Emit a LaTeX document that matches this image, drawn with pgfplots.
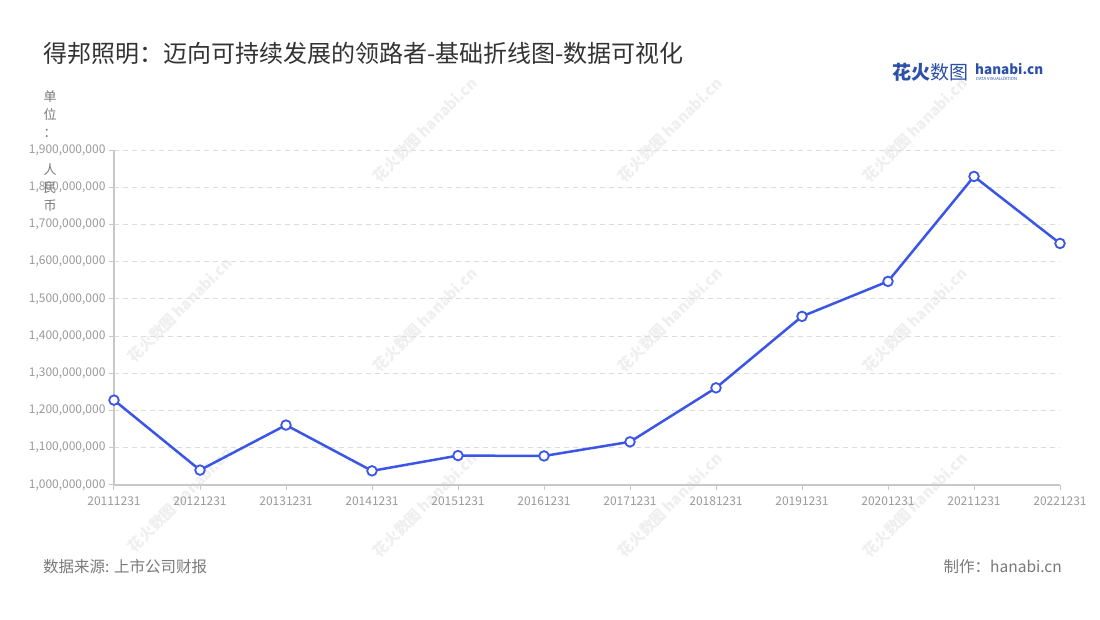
\documentclass[border=0pt]{standalone}
\usepackage{fontspec}
\setmainfont{Noto Sans CJK SC}
\usepackage{pgfplots}
\pgfplotsset{compat=1.18}
\definecolor{linec}{HTML}{3B55E6}
\definecolor{tickc}{HTML}{9A9A9A}
\definecolor{axisc}{HTML}{C8C8C8}
\definecolor{gridc}{HTML}{DDDDDD}
\definecolor{titlec}{HTML}{333333}
\definecolor{footc}{HTML}{7A7A7A}
\definecolor{wmc}{HTML}{EFEFEF}
\definecolor{logob}{HTML}{2D4FA8}
\begin{document}
\begin{tikzpicture}[x=1pt,y=1pt]
\fill[white] (0pt,0pt) rectangle (1100pt,620pt);
% watermarks
\foreach \cx/\cy in {180/310,180/500,425/130,425/320,425/505,670/130,670/320,670/505,915/130,915/320,915/505}{
  \node[rotate=45,text=wmc,font=\fontsize{15}{15}\selectfont\bfseries] at (\cx pt,620pt-\cy pt) {花火数图 hanabi.cn};
}
% title
\node[anchor=west,text=titlec,font=\fontsize{24}{24}\selectfont,inner sep=0] at (43pt,567pt) {得邦照明：迈向可持续发展的领路者-基础折线图-数据可视化};
% logo
\node[anchor=west,text=logob,font=\fontsize{19}{19}\selectfont\bfseries,inner sep=0] at (892pt,548pt) {花火\mdseries 数图};
\node[anchor=west,text=logob,font=\fontsize{13.5}{13.5}\selectfont\bfseries,inner sep=0] at (975pt,551pt) {hanabi.cn};
\node[anchor=west,text=logob,font=\fontsize{4.2}{4}\selectfont,inner sep=0] at (976pt,541pt) {DATA VISUALIZATION};
% footer
\node[anchor=west,text=footc,font=\fontsize{15.5}{16}\selectfont,inner sep=0] at (43pt,53pt) {数据来源: 上市公司财报};
\node[anchor=east,text=footc,font=\fontsize{15.5}{16}\selectfont,inner sep=0] at (1062pt,53pt) {制作：hanabi.cn};
\begin{axis}[
  at={(114pt,135pt)}, anchor=south west,
  scale only axis, width=946pt, height=335pt,
  xmin=0, xmax=11, ymin=1000000000, ymax=1900000000,
  xtick={0,...,11},
  xticklabels={20111231,20121231,20131231,20141231,20151231,20161231,20171231,20181231,20191231,20201231,20211231,20221231},
  ytick={1000000000,1100000000,1200000000,1300000000,1400000000,1500000000,1600000000,1700000000,1800000000,1900000000},
  scaled y ticks=false,
  /pgf/number format/.cd, fixed, precision=0, 1000 sep={,}, assume math mode=true, /pgfplots/.cd,
  axis x line*=bottom, axis y line*=left,
  axis line style={axisc, line width=1.2pt, -},
  tick align=outside, major tick length=5pt,
  tick style={axisc, line width=1pt},
  ymajorgrids, grid style={gridc, line width=0.9pt, dash pattern=on 5pt off 4pt},
  ticklabel style={text=tickc, font=\fontsize{12}{12}\selectfont},
  xticklabel style={yshift=-3pt},
  clip=false,
]
\addplot[linec, line width=2.5pt, mark=*, mark size=4.8pt, mark options={fill=white, draw=linec, line width=1.8pt}] coordinates {
(0,1228000000) (1,1040000000) (2,1161000000) (3,1038000000) (4,1079000000) (5,1078000000)
(6,1116000000) (7,1261000000) (8,1453000000) (9,1547000000) (10,1829000000) (11,1649000000)};
\end{axis}
% y unit label
\foreach \ch/\yy in {单/97,位/115,：/133,人/170,民/188,币/206}{
  \node[text=footc,font=\fontsize{13}{13}\selectfont,inner sep=0] at (50pt,620pt-\yy pt) {\ch};
}
\end{tikzpicture}
\end{document}
